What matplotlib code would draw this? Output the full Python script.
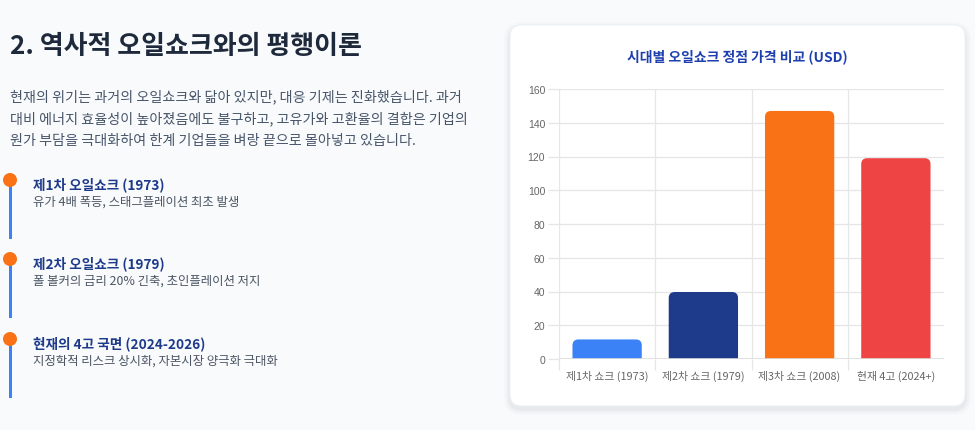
import matplotlib
matplotlib.use('Agg')
import matplotlib.pyplot as plt
from matplotlib.patches import FancyBboxPatch, Circle, Rectangle
from matplotlib.transforms import IdentityTransform

plt.rcParams['font.family'] = ['Noto Sans CJK KR', 'DejaVu Sans']

# 데이터
categories = ['제1차 쇼크 (1973)', '제2차 쇼크 (1979)', '제3차 쇼크 (2008)', '현재 4고 (2024+)']
peak_prices = [11.6, 39.7, 147, 119]
bar_colors = ['#3b82f6', '#1e3a8a', '#f97316', '#ef4444']
y_ticks = [0, 20, 40, 60, 80, 100, 120, 140, 160]

page_title = '2. 역사적 오일쇼크와의 평행이론'
paragraph = ['현재의 위기는 과거의 오일쇼크와 닮아 있지만, 대응 기제는 진화했습니다. 과거',
             '대비 에너지 효율성이 높아졌음에도 불구하고, 고유가와 고환율의 결합은 기업의',
             '원가 부담을 극대화하여 한계 기업들을 벼랑 끝으로 몰아넣고 있습니다.']
timeline_titles = ['제1차 오일쇼크 (1973)', '제2차 오일쇼크 (1979)', '현재의 4고 국면 (2024-2026)']
timeline_texts = ['유가 4배 폭등, 스태그플레이션 최초 발생',
                  '폴 볼커의 금리 20% 긴축, 초인플레이션 저지',
                  '지정학적 리스크 상시화, 자본시장 양극화 극대화']
chart_title = '시대별 오일쇼크 정점 가격 비교 (USD)'

W, H = 975, 431
fig = plt.figure(figsize=(W / 100, H / 100), dpi=100)
fig.patch.set_facecolor('#f8fafc')
px = IdentityTransform()


def top(y):
    # 위에서부터 잰 픽셀 -> 아래 기준 픽셀
    return H - y


# 카드 그림자 + 카드
for i, a in enumerate([0.015, 0.02, 0.03]):
    s = 6 - 2 * i
    fig.patches.append(FancyBboxPatch((510 - s, top(407) - s - 3), 455 + 2 * s, 381 + 2 * s,
                                      boxstyle='round,pad=0,rounding_size=%d' % (12 + s),
                                      transform=px, facecolor='#0f172a', alpha=a, edgecolor='none',
                                      zorder=-2))
fig.patches.append(FancyBboxPatch((510, top(407)), 455, 381, boxstyle='round,pad=0,rounding_size=12',
                                  transform=px, facecolor='white', edgecolor='#eef2f6', lw=0.8,
                                  zorder=-1))

# 왼쪽 텍스트
fig.text(10, top(47), page_title, transform=px, fontsize=18.7, fontweight='bold',
         color='#1e293b', va='center', ha='left')
for i, line in enumerate(paragraph):
    fig.text(10, top(97 + 22 * i), line, transform=px, fontsize=10.15, color='#475569',
             va='center', ha='left')

dot_y = [181, 260, 340]
for i in range(3):
    fig.patches.append(Rectangle((8.5, top(dot_y[i] + 59)), 3, 59, transform=px,
                                 facecolor='#3b82f6', edgecolor='none'))
    fig.patches.append(Circle((10, top(dot_y[i])), 7, transform=px,
                              facecolor='#f97316', edgecolor='none'))
    fig.text(33, top(dot_y[i] + 4), timeline_titles[i], transform=px, fontsize=9.8,
             fontweight='bold', color='#1e3a8a', va='center', ha='left')
    fig.text(33, top(dot_y[i] + 21), timeline_texts[i], transform=px, fontsize=8.95,
             color='#4b5563', va='center', ha='left')

# 차트
fig.text(737, top(57), chart_title, transform=px, fontsize=10, fontweight='bold',
         color='#1e40af', va='center', ha='center')

ax = fig.add_axes([559 / W, (H - 360) / H, 385 / W, 270 / H])
ax.set_zorder(5)
ax.set_facecolor('white')
ax.set_xlim(-0.5, len(categories) - 0.5)
ax.set_ylim(0, 160)

x = list(range(len(categories)))
bars = ax.bar(x, peak_prices, width=0.72, color='none', edgecolor='none')
# 윗모서리 둥근 막대
r_x = 6 / 96.25
aspect = (160 / 270) / (4 / 385)
for b, c in zip(bars, bar_colors):
    ext = r_x * aspect
    p = FancyBboxPatch((b.get_x(), -ext), b.get_width(), b.get_height() + ext,
                       boxstyle='round,pad=0,rounding_size=%f' % r_x, mutation_aspect=aspect,
                       facecolor=c, edgecolor='none', zorder=2)
    ax.add_patch(p)

ax.set_yticks(y_ticks)
ax.set_yticklabels([str(v) for v in y_ticks])
ax.set_xticks(x)
ax.set_xticklabels(categories)
ax.set_xticks([-0.5, 0.5, 1.5, 2.5], minor=True)
ax.grid(axis='y', color='#e6e6e6', lw=0.9, zorder=0)
for xv in [-0.5, 0.5, 1.5, 2.5]:
    ax.axvline(xv, color='#e6e6e6', lw=0.9, zorder=0)
ax.axhline(0, color='#dcdcdc', lw=1.2, zorder=3)
ax.tick_params(axis='y', length=8, color='#e6e6e6', width=0.9, labelsize=7.5,
               labelcolor='#666666', pad=2)
ax.tick_params(axis='x', which='major', length=0, labelsize=7.8, labelcolor='#666666', pad=8)
ax.tick_params(axis='x', which='minor', length=8, color='#e6e6e6', width=0.9)
for lab in ax.get_yticklabels():
    lab.set_fontfamily(['Liberation Sans', 'DejaVu Sans'])
for s in ax.spines.values():
    s.set_visible(False)

fig.savefig('out.png', dpi=100, facecolor=fig.get_facecolor())
